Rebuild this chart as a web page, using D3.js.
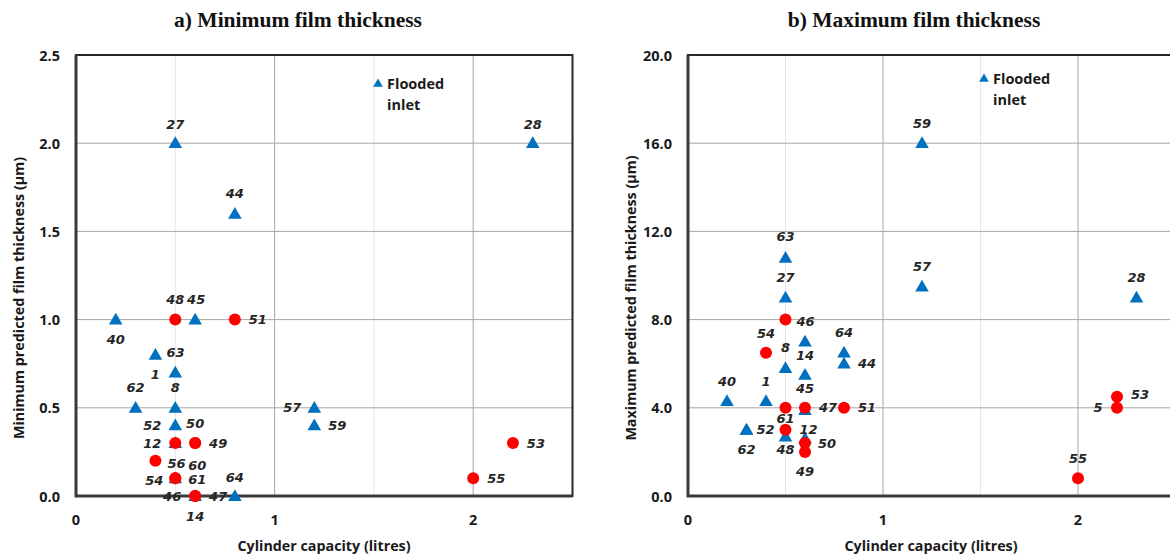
<!DOCTYPE html>
<html>
<head>
<meta charset="utf-8">
<script src="https://cdn.jsdelivr.net/npm/d3@7.9.0/dist/d3.min.js"></script>
<style>
  body { margin: 0; background: #fff; }
  svg { display: block; }
  .tick-label, .axis-title, .legend-text { font-family: "Open Sans", sans-serif; font-weight: bold; fill: #1a1a1a; }
  .pt-label { font-family: "DejaVu Sans", sans-serif; font-weight: bold; font-style: italic; font-size: 13px; fill: #262626; }
  .panel-title { font-family: "Liberation Serif", "Times New Roman", serif; font-weight: bold; font-size: 21.5px; fill: #111; }
</style>
</head>
<body>
<svg id="chart" width="1170" height="556"></svg>
<script>
// [label, capacity (litres), thickness (um)]
const minFlooded = [
  ['27', 0.5, 2.0], ['44', 0.8, 1.6], ['28', 2.3, 2.0], ['40', 0.2, 1.0], ['45', 0.6, 1.0],
  ['63', 0.4, 0.8], ['1', 0.5, 0.7], ['62', 0.3, 0.5], ['8', 0.5, 0.5], ['52', 0.5, 0.4],
  [null, 0.5, 0.3], ['57', 1.2, 0.5], ['59', 1.2, 0.4], ['60', 0.5, 0.1], ['14', 0.6, 0.0],
  ['64', 0.8, 0.0]
];
const minStarved = [
  ['48', 0.5, 1.0], ['51', 0.8, 1.0], ['12', 0.5, 0.3], ['50', 0.6, 0.3], ['49', 0.6, 0.3],
  ['56', 0.4, 0.2], ['54', 0.5, 0.1], ['61', 0.5, 0.1], ['46', 0.6, 0.0], ['47', 0.6, 0.0],
  ['53', 2.2, 0.3], ['55', 2.0, 0.1]
];
const maxFlooded = [
  ['59', 1.2, 16.0], ['57', 1.2, 9.5], ['28', 2.3, 9.0], ['63', 0.5, 10.8], ['27', 0.5, 9.0],
  ['8', 0.5, 5.8], ['14', 0.6, 7.0], ['45', 0.6, 5.5], ['64', 0.8, 6.5], ['44', 0.8, 6.0],
  ['40', 0.2, 4.3], ['1', 0.4, 4.3], ['52', 0.3, 3.0], ['62', 0.3, 3.0], ['48', 0.5, 2.7],
  [null, 0.6, 3.9], [null, 0.6, 2.6]
];
const maxStarved = [
  ['46', 0.5, 8.0], ['54', 0.4, 6.5], ['61', 0.5, 4.0], ['47', 0.6, 4.0], ['51', 0.8, 4.0],
  ['12', 0.5, 3.0], ['50', 0.6, 2.4], ['49', 0.6, 2.0], ['55', 2.0, 0.8], ['53', 2.2, 4.5],
  ['5', 2.2, 4.0]
];

const xTicks = [0, 1, 2];
const xMinorGrid = [0.5, 1.5];
const minTicks = [0, 0.5, 1.0, 1.5, 2.0, 2.5];
const maxTicks = [0, 4, 8, 12, 16, 20];

// label offsets (px) from the marker, per panel
const minLabelPos = {
  '27': [0, -19], '44': [0, -20], '28': [0, -19], '40': [0, 20], '45': [1, -20], '63': [20, -2],
  '1': [-20, 2], '62': [0, -20], '8': [0, -20], '52': [-23, 0], '57': [-22, 0], '59': [23, 0],
  '60': [22, -13], '14': [0, 20], '64': [0, -19], '48': [0, -20], '51': [23, 0], '12': [-23, 0],
  '50': [0, -20], '49': [23, 0], '56': [21, 3], '54': [-21, 2], '61': [22, 1], '46': [-23, 0],
  '47': [23, 0], '53': [23, 0], '55': [23, 0]
};
const maxLabelPos = {
  '59': [0, -20], '57': [0, -20], '28': [0, -20], '63': [0, -21], '27': [0, -20], '8': [0, -21],
  '14': [0, 14], '45': [0, 14], '64': [0, -20], '44': [23, 0], '40': [0, -20], '1': [0, -20],
  '52': [19, 0], '62': [0, 20], '48': [0, 13], '46': [20, 2], '54': [0, -19], '61': [0, 11],
  '47': [23, 0], '51': [23, 0], '12': [23, 0], '50': [22, 0], '49': [0, 20], '55': [0, -20],
  '53': [23, -2], '5': [-19, 0]
};

const BLUE = '#0070c0';
const RED = '#ff0000';
const svg = d3.select('#chart');

function drawPanel(p) {
  const x = d3.scaleLinear().domain([0, 2.5]).range([p.left, p.right]);
  const y = d3.scaleLinear().domain([0, p.yMax]).range([496, 55]);
  const g = svg.append('g');

  // gridlines
  g.selectAll('.minor').data(xMinorGrid).join('line')
    .attr('x1', d => x(d)).attr('x2', d => x(d)).attr('y1', y(0)).attr('y2', y(p.yMax))
    .attr('stroke', '#e6e6e6').attr('stroke-width', 1);
  g.selectAll('.vmajor').data(xTicks.filter(d => d > 0)).join('line')
    .attr('x1', d => x(d)).attr('x2', d => x(d)).attr('y1', y(0)).attr('y2', y(p.yMax))
    .attr('stroke', '#a6a6a6').attr('stroke-width', 1);
  g.selectAll('.hmajor').data(p.yTicks.filter(d => d > 0 && d < p.yMax)).join('line')
    .attr('x1', x(0)).attr('x2', x(2.5)).attr('y1', d => y(d)).attr('y2', d => y(d))
    .attr('stroke', '#a6a6a6').attr('stroke-width', 1);

  // frame
  g.append('rect')
    .attr('x', x(0)).attr('y', y(p.yMax))
    .attr('width', x(2.5) - x(0)).attr('height', y(0) - y(p.yMax))
    .attr('fill', 'none').attr('stroke', '#262626').attr('stroke-width', 2);
  g.append('path')
    .attr('d', `M${x(0)},${y(p.yMax)}V${y(0)}H${x(2.5)}`)
    .attr('fill', 'none').attr('stroke', '#3a3a3a').attr('stroke-width', 3);

  // tick labels
  g.selectAll('.ytl').data(p.yTicks).join('text')
    .attr('class', 'tick-label')
    .attr('x', x(0) - 16).attr('y', d => y(d))
    .attr('text-anchor', 'end').attr('dominant-baseline', 'central')
    .attr('font-size', 14.5)
    .text(d => d3.format('.1f')(d));
  g.selectAll('.xtl').data(xTicks).join('text')
    .attr('class', 'tick-label')
    .attr('x', d => x(d)).attr('y', 519)
    .attr('text-anchor', 'middle').attr('dominant-baseline', 'central')
    .attr('font-size', 14.5)
    .text(d => d);

  // axis titles
  g.append('text').attr('class', 'axis-title')
    .attr('x', p.xTitleX).attr('y', 545)
    .attr('text-anchor', 'middle').attr('dominant-baseline', 'central')
    .attr('font-size', 14.3)
    .text('Cylinder capacity (litres)');
  g.append('text').attr('class', 'axis-title')
    .attr('transform', `translate(${x(0) - 58},298) rotate(-90)`)
    .attr('text-anchor', 'middle').attr('dominant-baseline', 'central')
    .attr('font-size', 14.3)
    .text(p.yTitle);

  // panel title
  g.append('text').attr('class', 'panel-title')
    .attr('x', p.titleX).attr('y', 20)
    .attr('text-anchor', 'middle').attr('dominant-baseline', 'central')
    .text(p.title);

  // legend
  g.append('path')
    .attr('d', d3.symbol(d3.symbolTriangle, 40)())
    .attr('transform', `translate(${p.legendX},${p.legendY + 1})`)
    .attr('fill', BLUE);
  const lt = g.append('text').attr('class', 'legend-text')
    .attr('x', p.legendX + 9).attr('y', p.legendY)
    .attr('font-size', 14.5).attr('dominant-baseline', 'central');
  lt.append('tspan').attr('x', p.legendX + 9).text('Flooded');
  lt.append('tspan').attr('x', p.legendX + 9).attr('dy', 21).text('inlet');

  // markers: triangles first, circles on top
  g.selectAll('.tri').data(p.flooded).join('path')
    .attr('d', d3.symbol(d3.symbolTriangle, 80)())
    .attr('transform', d => `translate(${x(d[1])},${y(d[2]) + 1})`)
    .attr('fill', BLUE);
  g.selectAll('.dot').data(p.starved).join('circle')
    .attr('cx', d => x(d[1])).attr('cy', d => y(d[2])).attr('r', 6)
    .attr('fill', RED);

  // point labels
  const all = p.flooded.concat(p.starved).filter(d => d[0] && p.labelPos[d[0]]);
  g.selectAll('.pt-label').data(all).join('text')
    .attr('class', 'pt-label')
    .attr('x', d => x(d[1]) + p.labelPos[d[0]][0])
    .attr('y', d => y(d[2]) + p.labelPos[d[0]][1])
    .attr('text-anchor', 'middle').attr('dominant-baseline', 'central')
    .text(d => d[0]);
}

drawPanel({
  left: 76, right: 572.5, yMax: 2.5, yTicks: minTicks,
  flooded: minFlooded, starved: minStarved, labelPos: minLabelPos,
  title: 'a) Minimum film thickness', titleX: 298, xTitleX: 324,
  yTitle: 'Minimum predicted film thickness (\u03bcm)',
  legendX: 378, legendY: 83
});
drawPanel({
  left: 688, right: 1175.5, yMax: 20, yTicks: maxTicks,
  flooded: maxFlooded, starved: maxStarved, labelPos: maxLabelPos,
  title: 'b) Maximum film thickness', titleX: 914, xTitleX: 931,
  yTitle: 'Maximum predicted film thickness (\u03bcm)',
  legendX: 984, legendY: 78
});
</script>
</body>
</html>
